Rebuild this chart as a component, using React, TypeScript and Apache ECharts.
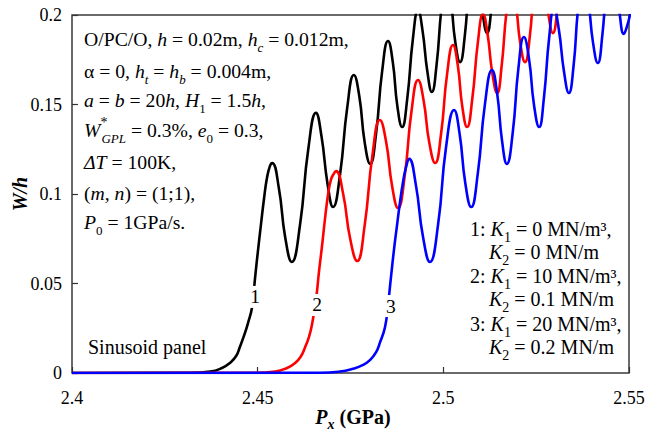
import React, { useEffect, useRef } from "react";
import * as echarts from "echarts";

const FONT = '"Liberation Serif", "Times New Roman", serif';

const xTicks = [2.4, 2.45, 2.5, 2.55];
const yTicks = [0, 0.05, 0.1, 0.15, 0.2];

// Curve 1 (black): K1 = 0, K2 = 0
const blackX = [2.4, 2.4318, 2.4372, 2.4404, 2.4425, 2.4442, 2.4452, 2.4463, 2.4474, 2.4485, 2.4493, 2.4501, 2.4509, 2.4517, 2.4525, 2.4533, 2.4539, 2.4557, 2.4574, 2.4592, 2.4614, 2.4636, 2.4657, 2.4672, 2.4688, 2.4703, 2.4722, 2.4741, 2.4759, 2.4774, 2.4788, 2.4803, 2.4819, 2.4835, 2.4851, 2.4864, 2.4876, 2.4889, 2.4903, 2.4918, 2.4932, 2.4944, 2.4957, 2.4969, 2.4982, 2.4995, 2.5007, 2.502, 2.5032, 2.5045, 2.5058, 2.507, 2.5083, 2.5094, 2.5106, 2.5118, 2.5129, 2.5141, 2.5153];
const blackY = [0, 0.0001, 0.0008, 0.0028, 0.0056, 0.0095, 0.0145, 0.0207, 0.0279, 0.0369, 0.0531, 0.0687, 0.0832, 0.0972, 0.1089, 0.1156, 0.1173, 0.1034, 0.076, 0.062, 0.0827, 0.1246, 0.1453, 0.1321, 0.1059, 0.0927, 0.1112, 0.148, 0.1665, 0.1542, 0.1291, 0.1168, 0.1341, 0.1682, 0.1855, 0.1735, 0.1494, 0.1374, 0.1536, 0.1866, 0.2028, 0.1913, 0.1684, 0.157, 0.1726, 0.2039, 0.2196, 0.2081, 0.1852, 0.1737, 0.1888, 0.2184, 0.2335, 0.2226, 0.2008, 0.1899, 0.2028, 0.2291, 0.2419];

// Curve 2 (red): K1 = 10, K2 = 0.1
const redX = [2.4, 2.4493, 2.4547, 2.4579, 2.4601, 2.4617, 2.4627, 2.4638, 2.4646, 2.4657, 2.4665, 2.4673, 2.4681, 2.4689, 2.4697, 2.4706, 2.4711, 2.473, 2.4749, 2.4768, 2.4788, 2.4809, 2.4829, 2.4846, 2.4862, 2.4878, 2.4896, 2.4914, 2.4932, 2.4947, 2.4962, 2.4978, 2.4994, 2.501, 2.5026, 2.5039, 2.5051, 2.5064, 2.5078, 2.5093, 2.5107, 2.5119, 2.5132, 2.5145, 2.5157, 2.517, 2.5182, 2.5195, 2.5207, 2.522, 2.5233, 2.5245, 2.5258, 2.527, 2.5283, 2.5295, 2.5307, 2.5319, 2.533];
const redY = [0, 0.0001, 0.0008, 0.0028, 0.0056, 0.0095, 0.014, 0.0201, 0.0268, 0.0408, 0.0564, 0.0704, 0.0855, 0.0989, 0.1078, 0.1117, 0.1128, 0.1003, 0.0751, 0.0626, 0.0822, 0.1216, 0.1413, 0.1291, 0.1045, 0.0922, 0.1101, 0.1458, 0.1637, 0.1521, 0.1289, 0.1173, 0.1338, 0.1668, 0.1832, 0.1718, 0.1489, 0.1374, 0.1532, 0.1847, 0.2006, 0.1895, 0.1674, 0.1564, 0.1715, 0.2017, 0.2168, 0.206, 0.1845, 0.1737, 0.1883, 0.2173, 0.2318, 0.2212, 0.2004, 0.1899, 0.2028, 0.2291, 0.2419];

// Curve 3 (blue): K1 = 20, K2 = 0.2
const blueX = [2.4, 2.4668, 2.4722, 2.4754, 2.4784, 2.4803, 2.4819, 2.4829, 2.4843, 2.4851, 2.4859, 2.4867, 2.4875, 2.4883, 2.4891, 2.4899, 2.4908, 2.4926, 2.4945, 2.4964, 2.4986, 2.5007, 2.5029, 2.5044, 2.5059, 2.5075, 2.5093, 2.5112, 2.5131, 2.5145, 2.5158, 2.5171, 2.5187, 2.5202, 2.5217, 2.5231, 2.5244, 2.5258, 2.5271, 2.5285, 2.5298, 2.5311, 2.5325, 2.5338, 2.5351, 2.5363, 2.5376, 2.539, 2.5403, 2.5416, 2.5428, 2.544, 2.5451, 2.5463, 2.5475, 2.5486, 2.5495, 2.5503];
const blueY = [0, 0.0001, 0.0008, 0.0022, 0.0045, 0.0073, 0.0117, 0.0168, 0.0257, 0.038, 0.0536, 0.0687, 0.0821, 0.095, 0.1061, 0.1145, 0.1196, 0.1051, 0.0764, 0.062, 0.0832, 0.1257, 0.1469, 0.1334, 0.1063, 0.0927, 0.1118, 0.1501, 0.1693, 0.1561, 0.1299, 0.1168, 0.1345, 0.1699, 0.1877, 0.1751, 0.15, 0.1374, 0.154, 0.1873, 0.2039, 0.192, 0.1683, 0.1564, 0.1722, 0.2037, 0.2196, 0.2079, 0.1847, 0.1732, 0.1883, 0.2184, 0.2335, 0.2225, 0.2004, 0.1894, 0.1939, 0.2006];

const seriesNames = ["1", "2", "3"];
const seriesColors = ["#000000", "#ff0000", "#0000ff"];
const curveLabelX = [2.4493, 2.466, 2.4859];
const curveLabelY = [0.0425, 0.038, 0.0374];

const infoLines = [
  "{n|O/PC/O, }{i|h}{n| = 0.02m, }{i|h}{subi|c}{n| = 0.012m,}",
  "{n|\u03b1 = 0, }{i|h}{subi|t}{n| = }{i|h}{subi|b}{n| = 0.004m,}",
  "{i|a}{n| = }{i|b}{n| = 20}{i|h}{n|, }{i|H}{sub|1}{n| = 1.5}{i|h}{n|,}",
  "{i|W}{sup|*}{subi|GPL}{n| = 0.3%, }{i|e}{sub|0}{n| = 0.3,}",
  "{i|\u0394T}{n| = 100K,}",
  "{n|(}{i|m}{n|, }{i|n}{n|) = (1;1),}",
  "{i|P}{sub|0}{n| = 1GPa/s.}",
];
const infoY = [39, 71, 100, 130, 162, 193, 222];

const stiffLines = [
  "{n|1: }{i|K}{sub|1}{n| = 0 MN/m\u00b3,}",
  "{i|K}{sub|2}{n| = 0 MN/m}",
  "{n|2: }{i|K}{sub|1}{n| = 10 MN/m\u00b3,}",
  "{i|K}{sub|2}{n| = 0.1 MN/m}",
  "{n|3: }{i|K}{sub|1}{n| = 20 MN/m\u00b3,}",
  "{i|K}{sub|2}{n| = 0.2 MN/m}",
];
const stiffX = [470, 489, 470, 489, 470, 489];
const stiffY = [229, 252, 276, 299, 324, 347];

const panelText = "Sinusoid panel";

function zip(xs: number[], ys: number[]) {
  return xs.map((x, i) => [x, ys[i]]);
}

function makeRich(size: number) {
  const sub = Math.round(size * 0.68);
  return {
    n: { fontFamily: FONT, fontSize: size, color: "#000", lineHeight: 30 },
    i: { fontFamily: FONT, fontSize: size, color: "#000", lineHeight: 30, fontStyle: "italic" },
    sub: { fontFamily: FONT, fontSize: sub, color: "#000", lineHeight: 18, verticalAlign: "bottom" },
    subi: { fontFamily: FONT, fontSize: sub, color: "#000", lineHeight: 18, verticalAlign: "bottom", fontStyle: "italic" },
    sup: { fontFamily: FONT, fontSize: sub + 1, color: "#000", lineHeight: 18, verticalAlign: "top", width: 1 },
  };
}

export default function App() {
  const ref = useRef<HTMLDivElement>(null);
  useEffect(() => {
    const chart = echarts.init(ref.current as HTMLDivElement, null, { renderer: "svg" });
    const fmt = (v: number) => String(Number(v.toFixed(2)));
    const richLeft = makeRich(19.7);
    const richRight = makeRich(20);
    const series = [
      [blackX, blackY],
      [redX, redY],
      [blueX, blueY],
    ].map(([xs, ys], k) => ({
      type: "line",
      name: seriesNames[k],
      data: zip(xs, ys),
      smooth: 0.5,
      showSymbol: false,
      clip: true,
      lineStyle: { color: seriesColors[k], width: 2.6 },
      itemStyle: { color: seriesColors[k] },
      z: 2 + k,
      markPoint: {
        silent: true,
        symbol: "rect",
        symbolSize: 1,
        itemStyle: { color: "rgba(0,0,0,0)" },
        label: {
          show: true,
          position: "inside",
          formatter: seriesNames[k],
          fontFamily: FONT,
          fontSize: 19.5,
          color: "#000",
          backgroundColor: "#fff",
          padding: [1, 1],
          lineHeight: 20,
        },
        data: [{ coord: [curveLabelX[k], curveLabelY[k]] }],
      },
    }));

    const graphic: any[] = [];
    infoLines.forEach((t, i) => {
      graphic.push({
        type: "text",
        x: 84,
        y: infoY[i],
        z: 100,
        style: { text: t, rich: richLeft, align: "left", verticalAlign: "middle" },
      });
    });
    stiffLines.forEach((t, i) => {
      graphic.push({
        type: "text",
        x: stiffX[i],
        y: stiffY[i],
        z: 100,
        style: { text: t, rich: richRight, align: "left", verticalAlign: "middle" },
      });
    });
    graphic.push({
      type: "text",
      x: 88,
      y: 347,
      z: 100,
      style: { text: "{n|" + panelText + "}", rich: richRight, align: "left", verticalAlign: "middle" },
    });
    graphic.push({
      type: "text",
      x: 20,
      y: 194,
      rotation: Math.PI / 2,
      z: 100,
      style: {
        text: "W/h",
        fontFamily: FONT,
        fontSize: 20,
        fontWeight: "bold",
        fontStyle: "italic",
        fill: "#000",
        align: "center",
        verticalAlign: "middle",
      },
    });
    graphic.push({
      type: "text",
      x: 353,
      y: 417,
      z: 100,
      style: {
        text: "{b|P}{bs|x}{bn| (GPa)}",
        rich: {
          b: { fontFamily: FONT, fontSize: 20, fontWeight: "bold", fontStyle: "italic", color: "#000", lineHeight: 28 },
          bs: { fontFamily: FONT, fontSize: 14, fontWeight: "bold", fontStyle: "italic", color: "#000", lineHeight: 18, verticalAlign: "bottom" },
          bn: { fontFamily: FONT, fontSize: 20, fontWeight: "bold", color: "#000", lineHeight: 28 },
        },
        align: "center",
        verticalAlign: "middle",
      },
    });

    chart.setOption({
      animation: false,
      backgroundColor: "#fff",
      grid: {
        left: 72,
        right: 20,
        top: 15,
        bottom: 57,
        show: true,
        borderColor: "#3a3a3a",
        borderWidth: 1.5,
        backgroundColor: "transparent",
      },
      xAxis: {
        type: "value",
        min: xTicks[0],
        max: xTicks[xTicks.length - 1],
        interval: 0.05,
        axisLine: { show: false },
        splitLine: { show: false },
        axisTick: { show: true, inside: true, length: 6, lineStyle: { color: "#333", width: 1.2 } },
        axisLabel: {
          fontFamily: FONT,
          fontSize: 18,
          color: "#000",
          margin: 16,
          showMinLabel: true,
          showMaxLabel: true,
          formatter: fmt,
        },
      },
      yAxis: {
        type: "value",
        min: yTicks[0],
        max: yTicks[yTicks.length - 1],
        interval: 0.05,
        axisLine: { show: false },
        splitLine: { show: false },
        axisTick: { show: true, inside: true, length: 6, lineStyle: { color: "#333", width: 1.2 } },
        axisLabel: {
          fontFamily: FONT,
          fontSize: 18,
          color: "#000",
          margin: 10,
          showMinLabel: true,
          showMaxLabel: true,
          formatter: fmt,
        },
      },
      series,
      graphic,
    });
    return () => chart.dispose();
  }, []);
  return (
    <div
      ref={ref}
      style={{ position: "fixed", left: 0, top: 0, width: 649, height: 430, background: "#fff" }}
    />
  );
}
